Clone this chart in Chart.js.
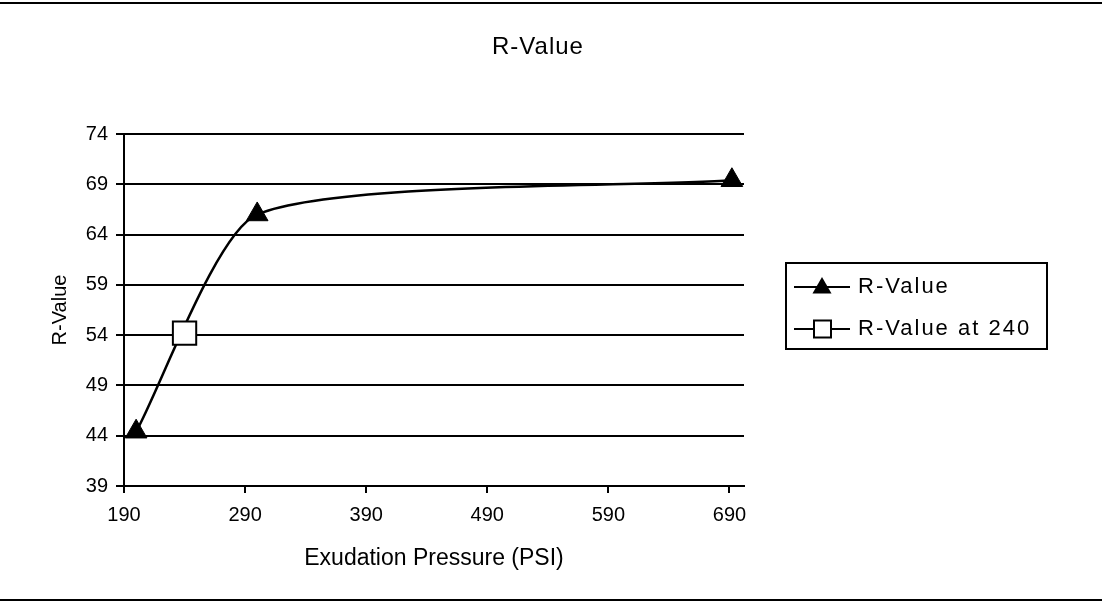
<!DOCTYPE html>
<html>
<head>
<meta charset="utf-8">
<title>R-Value</title>
<script src="https://cdn.jsdelivr.net/npm/chart.js@4.4.1/dist/chart.umd.min.js"></script>
<style>
  html, body { margin: 0; padding: 0; background: #fff; }
  #wrap { width: 1102px; height: 602px; }
</style>
</head>
<body>
<div id="wrap"><canvas id="chart" width="1102" height="602"></canvas></div>
<script>
const titleText = 'R-Value';
const xTitle = 'Exudation Pressure (PSI)';
const yTitle = 'R-Value';
const seriesLabels = ['R-Value', 'R-Value at 240'];

// main curve
const pressure = [200, 300, 692];
const rValue = [44.4, 66.0, 69.4];
// single marked point
const markPressure = [240];
const markValue = [54.2];

const xTicks = [190, 290, 390, 490, 590, 690];
const yTicks = [39, 44, 49, 54, 59, 64, 69, 74];

const FONT = '"Liberation Sans", Arial, sans-serif';

function drawTri(ctx, x, y, r) {
  ctx.beginPath();
  ctx.moveTo(x, y - r);
  ctx.lineTo(x + r * 0.866, y + r * 0.5);
  ctx.lineTo(x - r * 0.866, y + r * 0.5);
  ctx.closePath();
  ctx.fillStyle = '#000';
  ctx.fill();
}

// title, legend box and the page rules
const decor = {
  id: 'decor',
  beforeDraw(chart) {
    const ctx = chart.ctx;
    ctx.save();
    ctx.fillStyle = '#fff';
    ctx.fillRect(0, 0, chart.width, chart.height);
    ctx.restore();
  },
  afterDraw(chart) {
    const ctx = chart.ctx;
    ctx.save();
    ctx.strokeStyle = '#000';
    ctx.lineWidth = 2;
    ctx.beginPath();
    ctx.moveTo(0, 3); ctx.lineTo(chart.width, 3);
    ctx.moveTo(0, 600); ctx.lineTo(chart.width, 600);
    ctx.stroke();

    ctx.fillStyle = '#000';
    ctx.font = '24px ' + FONT;
    ctx.letterSpacing = '1px';
    ctx.textAlign = 'center';
    ctx.textBaseline = 'middle';
    ctx.fillText(titleText, 538, 47);

    // legend
    ctx.fillStyle = '#fff';
    ctx.fillRect(786, 263, 261, 86);
    ctx.strokeRect(786, 263, 261, 86);
    ctx.font = '22px ' + FONT;
    ctx.letterSpacing = '2px';
    ctx.textAlign = 'left';
    seriesLabels.forEach((lab, i) => {
      const y = 287 + i * 42;
      ctx.strokeStyle = '#000';
      ctx.lineWidth = 2;
      ctx.beginPath();
      ctx.moveTo(794, y); ctx.lineTo(850, y);
      ctx.stroke();
      if (i === 0) {
        drawTri(ctx, 822, y + 1, 11);
      } else {
        ctx.fillStyle = '#fff';
        ctx.fillRect(814, y - 8.5, 17, 17);
        ctx.strokeRect(814, y - 8.5, 17, 17);
      }
      ctx.fillStyle = '#000';
      ctx.fillText(lab, 858, y);
    });
    ctx.restore();
  }
};

const ctx = document.getElementById('chart').getContext('2d');
new Chart(ctx, {
  type: 'line',
  data: {
    datasets: [
      {
        label: seriesLabels[1],
        data: markPressure.map((x, i) => ({ x: x, y: markValue[i] })),
        showLine: false,
        pointStyle: 'rect',
        pointRadius: 16.5,
        pointBackgroundColor: '#fff',
        pointBorderColor: '#000',
        pointBorderWidth: 2,
        order: 0,
        clip: false
      },
      {
        label: seriesLabels[0],
        data: pressure.map((x, i) => ({ x: x, y: rValue[i] })),
        borderColor: '#000',
        borderWidth: 2.5,
        tension: 0.2,
        pointStyle: 'triangle',
        pointRadius: 12.5,
        pointBackgroundColor: '#000',
        pointBorderColor: '#000',
        pointBorderWidth: 1,
        order: 1,
        clip: false
      }
    ]
  },
  options: {
    responsive: false,
    animation: false,
    events: [],
    layout: { padding: { top: 134, right: 358, bottom: 0, left: 0 } },
    plugins: {
      legend: { display: false },
      title: { display: false },
      tooltip: { enabled: false }
    },
    scales: {
      x: {
        type: 'linear',
        min: 190,
        max: 702,
        afterBuildTicks: s => { s.ticks = xTicks.map(v => ({ value: v })); },
        afterFit: s => { s.height = 116; },
        border: { color: '#000', width: 2 },
        grid: { drawOnChartArea: false, drawTicks: true, tickLength: 7, color: '#000', lineWidth: 2 },
        ticks: { color: '#000', font: { size: 20, family: FONT }, padding: 10, maxRotation: 0, autoSkip: false },
        title: { display: true, text: xTitle, color: '#000', font: { size: 23, family: FONT }, padding: { top: 0, bottom: 30 } }
      },
      y: {
        min: 39,
        max: 74,
        afterBuildTicks: s => { s.ticks = yTicks.map(v => ({ value: v })); },
        afterFit: s => { s.width = 124; },
        border: { color: '#000', width: 2 },
        grid: { color: '#000', lineWidth: 2, tickLength: 8 },
        ticks: { color: '#000', font: { size: 20, family: FONT }, padding: 8 },
        title: { display: true, text: yTitle, color: '#000', font: { size: 20, family: FONT }, padding: { top: 48, bottom: 0 } }
      }
    }
  },
  plugins: [decor]
});
</script>
</body>
</html>
